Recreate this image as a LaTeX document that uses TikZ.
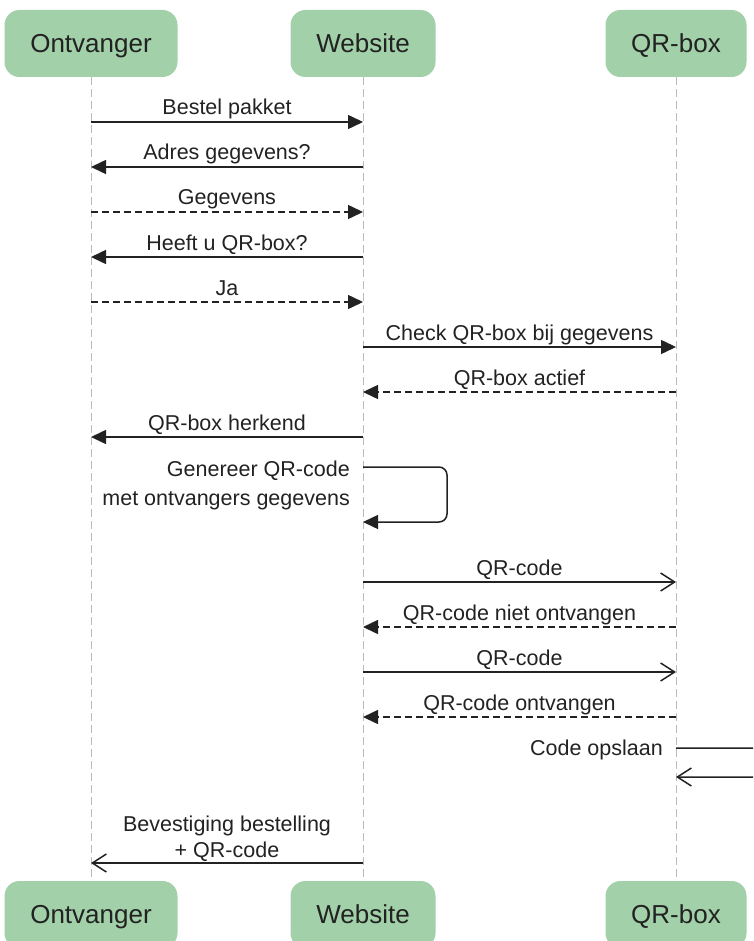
\documentclass[tikz,border=0pt]{standalone}
\usepackage{fontspec}
\setmainfont{Liberation Sans}
\usetikzlibrary{arrows.meta}

\definecolor{actorfill}{HTML}{A2D0A9}
\definecolor{inkc}{HTML}{222222}
\definecolor{lifec}{HTML}{BBBBBB}

\tikzset{
  actor/.style={rounded corners=15pt, fill=actorfill, minimum width=#1,
    minimum height=67pt, inner sep=0pt, text=inkc,
    font=\fontsize{26}{30}\selectfont, text height=18.6pt, text depth=0pt},
  lifeline/.style={draw=lifec, line width=1pt, dash pattern=on 8pt off 4pt},
  msg/.style={draw=inkc, line width=1.5pt},
  sync/.style={msg, -{Triangle[length=15pt,width=14pt]}},
  reply/.style={sync, dash pattern=on 7pt off 4pt},
  async/.style={msg, -{Straight Barb[length=14pt,width=18pt,line width=1.5pt]}},
  lbl/.style={font=\fontsize{21.5}{28}\selectfont, text=inkc, inner sep=0pt, anchor=base},
}

\begin{document}
\begin{tikzpicture}[x=1pt, y=-1pt]
\useasboundingbox (0,0) rectangle (753,941);
\clip (0,0) rectangle (753,941);

% participants, top and bottom
\node[actor=173pt] (ont)  at (91,43.5)   {Ontvanger};
\node[actor=145pt] (web)  at (363,43.5)  {Website};
\node[actor=141pt] (qr)   at (676,43.5)  {QR-box};
\node[actor=173pt] (ontB) at (91,914.5)  {Ontvanger};
\node[actor=145pt] (webB) at (363,914.5) {Website};
\node[actor=141pt] (qrB)  at (676,914.5) {QR-box};

% lifelines
\draw[lifeline] (ont) -- (ontB);
\draw[lifeline] (web) -- (webB);
\draw[lifeline] (qr)  -- (qrB);

% message rows
\foreach \n/\y in {m1/122, m2/167, m3/212, m4/257, m5/302, m6/347, m7/392,
                   m8/437, g1/467, g2/522, m10/582, m11/627, m12/672, m13/717,
                   c1/748, c2/777, m15/863}
  \coordinate (\n) at (0,\y);
\coordinate (gx) at (447,0);
\coordinate (cx) at (790,0);

\draw[sync]  (ont|-m1) -- (web|-m1) node[lbl, midway, yshift=7pt] {Bestel pakket};
\draw[sync]  (web|-m2) -- (ont|-m2) node[lbl, midway, yshift=7pt] {Adres gegevens?};
\draw[reply] (ont|-m3) -- (web|-m3) node[lbl, midway, yshift=7pt] {Gegevens};
\draw[sync]  (web|-m4) -- (ont|-m4) node[lbl, midway, yshift=7pt] {Heeft u QR-box?};
\draw[reply] (ont|-m5) -- (web|-m5) node[lbl, midway, yshift=7pt] {Ja};
\draw[sync]  (web|-m6) -- (qr|-m6)  node[lbl, midway, yshift=7pt] {Check QR-box bij gegevens};
\draw[reply] (qr|-m7)  -- (web|-m7) node[lbl, midway, yshift=7pt] {QR-box actief};
\draw[sync]  (web|-m8) -- (ont|-m8) node[lbl, midway, yshift=7pt] {QR-box herkend};

% self call on the website
\draw[sync, rounded corners=8pt] (web|-g1) -- (gx|-g1) -- (gx|-g2) -- (web|-g2);
\node[lbl, anchor=base east, align=right, font=\fontsize{21.5}{29}\selectfont]
  (gen) at (350,505) {Genereer QR-code\\met ontvangers gegevens};

\draw[async] (web|-m10) -- (qr|-m10)  node[lbl, midway, yshift=7pt] {QR-code};
\draw[reply] (qr|-m11)  -- (web|-m11) node[lbl, midway, yshift=7pt] {QR-code niet ontvangen};
\draw[async] (web|-m12) -- (qr|-m12)  node[lbl, midway, yshift=7pt] {QR-code};
\draw[reply] (qr|-m13)  -- (web|-m13) node[lbl, midway, yshift=7pt] {QR-code ontvangen};

% self call on the QR-box
\draw[async, rounded corners=8pt] (qr|-c1) -- (cx|-c1) -- (cx|-c2) -- (qr|-c2);
\node[lbl, anchor=base east] (store) at (663,755) {Code opslaan};

\draw[async] (web|-m15) -- (ont|-m15);
\node[lbl, align=center, font=\fontsize{21.5}{26}\selectfont]
  (conf) at (227,857) {Bevestiging bestelling\\+ QR-code};
\end{tikzpicture}
\end{document}
